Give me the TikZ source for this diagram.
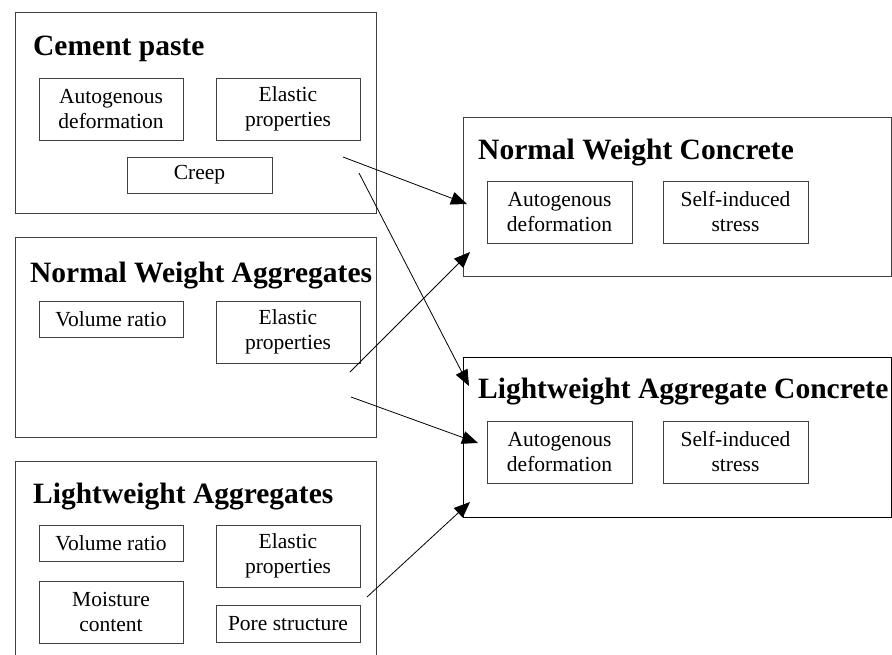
\documentclass[tikz,border=0pt]{standalone}
\usepackage{fontspec}
\setmainfont{Liberation Serif}
\usetikzlibrary{arrows.meta}
\providecommand{\chartBoxColor}{black!75}
\providecommand{\chartBoxLineWidth}{0.9pt}
\providecommand{\chartLinkLineWidth}{0.8pt}
\tikzset{
  groupbox/.style={draw=\chartBoxColor, line width=\chartBoxLineWidth, anchor=north west, inner sep=0pt},
  itembox/.style={draw=\chartBoxColor, line width=\chartBoxLineWidth, inner sep=0pt, align=center,
    font=\fontsize{21.5}{25}\selectfont},
  heading/.style={anchor=base west, inner sep=0pt, font=\fontsize{29.5}{32}\selectfont\bfseries},
  link/.style={line width=\chartLinkLineWidth, -{Triangle[length=16pt,width=13pt]}}
}
\begin{document}
\begin{tikzpicture}[x=1pt, y=-1pt]
\clip (0,0) rectangle (892,654);
\fill[white] (0,0) rectangle (892,654);
% Material groups on the left
\node[groupbox, minimum width=361pt, minimum height=201pt] (cement) at (15,12) {};
\node[heading] (cementT) at (33,55) {Cement paste};
\node[itembox, minimum width=144pt, minimum height=62pt] (cementAD) at (111,109) {Autogenous\\deformation};
\node[itembox, minimum width=144pt, minimum height=62pt] (cementEP) at (288,109) {Elastic\\properties};
\node[itembox, minimum width=145pt, minimum height=36pt] (cementCR) at (199.5,175) {Creep};

\node[groupbox, minimum width=361pt, minimum height=200pt] (nwagg) at (15,237) {};
\node[heading] (nwaggT) at (30,282) {Normal Weight Aggregates};
\node[itembox, minimum width=144pt, minimum height=36pt] (nwaggVR) at (111,319) {Volume ratio};
\node[itembox, minimum width=144pt, minimum height=62pt] (nwaggEP) at (288,332) {Elastic\\properties};

\node[groupbox, minimum width=361pt, minimum height=220pt] (lwagg) at (15,461) {};
\node[heading] (lwaggT) at (33,503) {Lightweight Aggregates};
\node[itembox, minimum width=144pt, minimum height=36pt] (lwaggVR) at (111,543) {Volume ratio};
\node[itembox, minimum width=144pt, minimum height=62pt] (lwaggEP) at (288,556) {Elastic\\properties};
\node[itembox, minimum width=144pt, minimum height=62pt] (lwaggMC) at (111,612) {Moisture\\content};
\node[itembox, minimum width=144pt, minimum height=37pt] (lwaggPS) at (288,623.5) {Pore structure};

% Concretes on the right
\node[groupbox, minimum width=428pt, minimum height=159pt] (nwc) at (463,117) {};
\node[heading] (nwcT) at (478,159) {Normal Weight Concrete};
\node[itembox, minimum width=145pt, minimum height=62pt] (nwcAD) at (559.5,212) {Autogenous\\deformation};
\node[itembox, minimum width=145pt, minimum height=62pt] (nwcSS) at (735.5,212) {Self-induced\\stress};

\node[groupbox, draw=black, minimum width=428pt, minimum height=160pt] (lwac) at (463,357) {};
\node[heading] (lwacT) at (478,398) {Lightweight Aggregate Concrete};
\node[itembox, minimum width=145pt, minimum height=62pt] (lwacAD) at (559.5,452) {Autogenous\\deformation};
\node[itembox, minimum width=145pt, minimum height=62pt] (lwacSS) at (735.5,452) {Self-induced\\stress};

% Link ends
\coordinate (cementA) at (343,157);
\coordinate (cementB) at (359,173);
\coordinate (nwaggA) at (350,372);
\coordinate (nwaggB) at (351,397);
\coordinate (lwaggA) at (367,597);
\coordinate (nwcA) at (467,204);
\coordinate (nwcB) at (470,252);
\coordinate (lwacA) at (469,386);
\coordinate (lwacB) at (478,443);
\coordinate (lwacC) at (470,502);

% Links
\draw[link] (cementA) -- (nwcA);
\draw[link] (cementB) -- (lwacA);
\draw[link] (nwaggA) -- (nwcB);
\draw[link] (nwaggB) -- (lwacB);
\draw[link] (lwaggA) -- (lwacC);
\end{tikzpicture}
\end{document}
